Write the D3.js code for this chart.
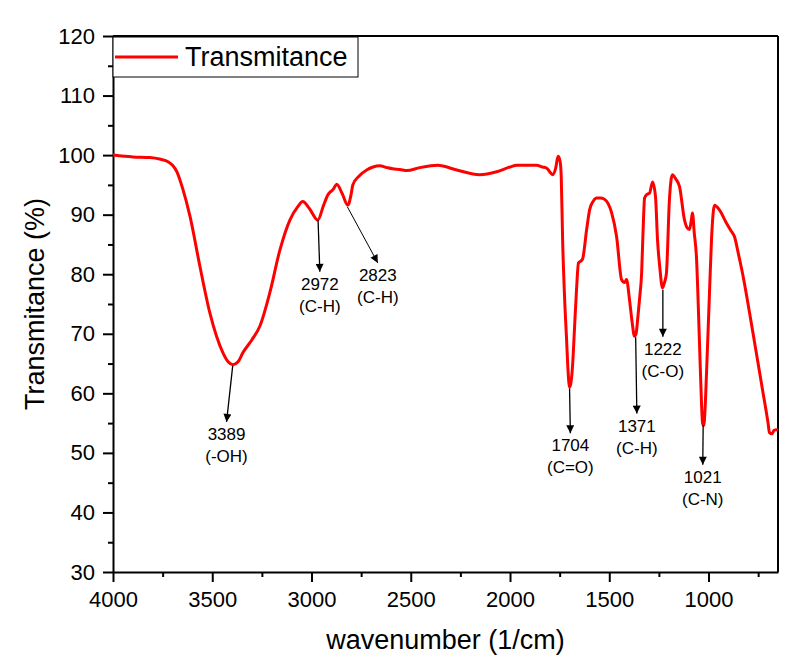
<!DOCTYPE html>
<html>
<head>
<meta charset="utf-8">
<script src="https://cdn.jsdelivr.net/npm/d3@7"></script>
<style>
  body { margin: 0; background: #fff; }
  text { font-family: Arial, "Liberation Sans", sans-serif; }
</style>
</head>
<body>
<div id="chart"></div>
<script>

// spectrum
var wavenumber = [4000, 3900, 3814, 3760, 3723, 3700, 3678, 3650, 3612, 3562, 3512, 3446, 3420, 3396, 3370, 3346, 3300, 3260, 3210,
  3159, 3109, 3070, 3044, 3010, 2968, 2940, 2918, 2890, 2873, 2845, 2817, 2800, 2792, 2760, 2722, 2690, 2656, 2620, 2591,
  2555, 2520, 2455, 2364, 2268, 2153, 2067, 2000, 1966, 1866, 1836, 1815, 1795, 1785, 1770, 1758, 1748, 1742, 1735, 1725,
  1715, 1708, 1700, 1692, 1685, 1675, 1665, 1655, 1640, 1634, 1614, 1599, 1580, 1564, 1545, 1524, 1505, 1488, 1463, 1438,
  1423, 1413, 1398, 1385, 1373, 1365, 1357, 1347, 1337, 1330, 1322, 1310, 1297, 1282, 1267, 1257, 1245, 1232, 1222, 1212,
  1197, 1182, 1165, 1146, 1121, 1108, 1096, 1085, 1081, 1072, 1061, 1046, 1035, 1030, 1024, 1018, 1010, 995, 985, 970,
  945, 910, 885, 869, 850, 829, 779, 728, 700, 693, 680, 670, 658, 650];
var transmitance = [100.0, 99.7, 99.6, 99.3, 98.9, 98.3, 97.2, 94.5, 89.7, 81.3, 73.5, 66.8, 65.3, 64.8, 65.3, 66.8, 69.0, 71.3, 76.9,
  84.1, 89.1, 91.3, 92.2, 91.0, 89.1, 91.5, 93.3, 94.3, 95.1, 93.5, 91.6, 93.5, 95.0, 96.5, 97.5, 98.0, 98.2, 97.9, 97.7,
  97.6, 97.4, 97.9, 98.3, 97.5, 96.7, 97.2, 98.0, 98.3, 98.3, 98.0, 97.8, 97.0, 96.7, 97.8, 99.8, 99.0, 96.4, 85.8, 76.0,
  69.0, 64.0, 61.0, 62.0, 64.6, 71.0, 77.4, 81.9, 82.3, 82.6, 87.5, 90.8, 92.3, 92.8, 92.8, 92.6, 91.8, 90.3, 86.3, 79.1,
  78.6, 79.1, 75.7, 72.0, 69.6, 70.0, 72.4, 76.0, 80.2, 87.0, 92.8, 93.4, 93.6, 95.5, 93.0, 85.8, 81.0, 77.7, 78.6, 80.2,
  92.5, 96.7, 96.0, 94.7, 89.1, 87.8, 87.5, 89.5, 90.3, 87.0, 83.0, 69.0, 58.0, 55.0, 54.6, 57.0, 63.5, 77.0, 85.8, 91.6,
  90.8, 88.6, 87.2, 86.3, 83.5, 80.2, 70.7, 60.6, 55.0, 53.4, 53.2, 53.8, 53.9, 53.8];

// peak labels: arrow from (peakWn, peakT) to (tipWn, tipT)
var peakLabels = ["3389", "2972", "2823", "1704", "1371", "1222", "1021"];
var peakGroups = ["(-OH)", "(C-H)", "(C-H)", "(C=O)", "(C-H)", "(C-O)", "(C-N)"];
var peakWn = [3397, 2967, 2819, 1700, 1367, 1230, 1027];
var peakT  = [64.6, 89.1, 91.3, 60.8, 69.4, 77.4, 54.7];
var tipWn  = [3428, 2958, 2666, 1696, 1361, 1230, 1029];
var tipT   = [55.2, 80.4, 81.9, 53.3, 56.6, 69.5, 48.0];

var xTicks = [4000, 3500, 3000, 2500, 2000, 1500, 1000];
var xMinor = [3750, 3250, 2750, 2250, 1750, 1250, 750];
var yTicks = [30, 40, 50, 60, 70, 80, 90, 100, 110, 120];
var yMinor = [35, 45, 55, 65, 75, 85, 95, 105, 115];

var width = 795, height = 670;
var margin = {left: 113, right: 17, top: 36, bottom: 98};

var svg = d3.select("#chart").append("svg")
  .attr("width", width)
  .attr("height", height);

var x = d3.scaleLinear().domain([4000, 650]).range([margin.left, width - margin.right]);
var y = d3.scaleLinear().domain([30, 120]).range([height - margin.bottom, margin.top]);

var data = wavenumber.map(function(w, i) { return {w: w, t: transmitance[i]}; });

// axes
svg.append("g")
  .attr("transform", "translate(0," + y(30) + ")")
  .call(d3.axisBottom(x).tickValues(xTicks).tickFormat(d3.format("d"))
    .tickSize(10).tickSizeOuter(0).tickPadding(9));
svg.append("g")
  .attr("transform", "translate(0," + y(30) + ")")
  .call(d3.axisBottom(x).tickValues(xMinor).tickSize(5).tickFormat(""))
  .select(".domain").remove();

svg.append("g")
  .attr("transform", "translate(" + x(4000) + ",0)")
  .call(d3.axisLeft(y).tickValues(yTicks).tickSize(10).tickSizeOuter(0).tickPadding(8));
svg.append("g")
  .attr("transform", "translate(" + x(4000) + ",0)")
  .call(d3.axisLeft(y).tickValues(yMinor).tickSize(5).tickFormat(""))
  .select(".domain").remove();

svg.selectAll(".tick line").attr("stroke", "#000").attr("stroke-width", 2);
svg.selectAll(".domain").attr("stroke", "#000").attr("stroke-width", 2);
svg.selectAll(".tick text").attr("fill", "#000").style("font-size", "22px")
  .style("font-family", "Arial, 'Liberation Sans', sans-serif");

// top and right frame
svg.append("line")
  .attr("x1", x(4000)).attr("x2", x(650))
  .attr("y1", y(120)).attr("y2", y(120))
  .attr("stroke", "#000").attr("stroke-width", 2);
svg.append("line")
  .attr("x1", x(650)).attr("x2", x(650))
  .attr("y1", y(120)).attr("y2", y(30))
  .attr("stroke", "#000").attr("stroke-width", 2);

// spectrum
var line = d3.line()
  .x(function(d) { return x(d.w); })
  .y(function(d) { return y(d.t); })
  .curve(d3.curveMonotoneX);

svg.append("path")
  .datum(data)
  .attr("d", line)
  .attr("fill", "none")
  .attr("stroke", "#ff0000")
  .attr("stroke-width", 3)
  .attr("stroke-linejoin", "round");

// arrows
svg.append("defs").append("marker")
  .attr("id", "arrow")
  .attr("viewBox", "0 0 10 10")
  .attr("refX", 10).attr("refY", 5)
  .attr("markerWidth", 12).attr("markerHeight", 8)
  .attr("markerUnits", "userSpaceOnUse")
  .attr("orient", "auto")
  .append("path")
  .attr("d", "M0,0L10,5L0,10Z")
  .attr("fill", "#000");

peakLabels.forEach(function(lab, i) {
  svg.append("line")
    .attr("x1", x(peakWn[i])).attr("y1", y(peakT[i]))
    .attr("x2", x(tipWn[i])).attr("y2", y(tipT[i]))
    .attr("stroke", "#000").attr("stroke-width", i == 2 ? 1 : 1.3)
    .attr("marker-end", "url(#arrow)");

  var t = svg.append("text")
    .attr("x", x(tipWn[i]))
    .attr("y", y(tipT[i]) + 18)
    .attr("text-anchor", "middle")
    .style("font-size", "17px")
    .attr("fill", "#000");
  t.append("tspan").attr("x", x(tipWn[i])).text(lab);
  t.append("tspan").attr("x", x(tipWn[i])).attr("dy", 22).text(peakGroups[i]);
});

// legend
svg.append("rect")
  .attr("x", x(4000)).attr("y", 37)
  .attr("width", 245).attr("height", 40)
  .attr("fill", "#fff").attr("stroke", "#000").attr("stroke-width", 1);
svg.append("line")
  .attr("x1", 115).attr("x2", 178).attr("y1", 57).attr("y2", 57)
  .attr("stroke", "#ff0000").attr("stroke-width", 3);
svg.append("text")
  .attr("x", 185).attr("y", 66)
  .style("font-size", "27px")
  .text("Transmitance");

// axis titles
svg.append("text")
  .attr("x", (x(4000) + x(650)) / 2)
  .attr("y", 649)
  .attr("text-anchor", "middle")
  .style("font-size", "27px")
  .text("wavenumber (1/cm)");

svg.append("text")
  .attr("transform", "translate(44," + (y(30) + y(120)) / 2 + ") rotate(-90)")
  .attr("text-anchor", "middle")
  .style("font-size", "27px")
  .text("Transmitance (%)");

</script>
</body>
</html>
